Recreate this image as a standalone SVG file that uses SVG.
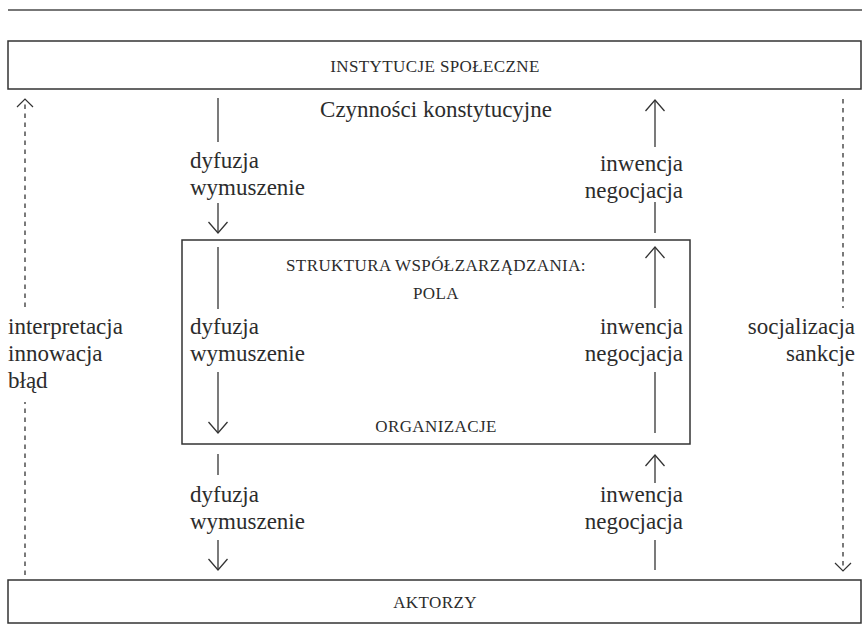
<svg xmlns="http://www.w3.org/2000/svg" width="864" height="642" viewBox="0 0 864 642">
<defs>
<style>
.box{fill:#fff;stroke:#333;stroke-width:1.5}
.ln{stroke:#333;stroke-width:1.3;fill:none}
.dash{stroke:#333;stroke-width:1.3;fill:none;stroke-dasharray:4.5 4.5}
.t{font-family:"Liberation Serif","Times New Roman",serif;font-size:23px;fill:#2c2c2c}
.sc{font-family:"Liberation Serif","Times New Roman",serif;font-size:17px;letter-spacing:0.4px;fill:#2c2c2c}
.m{text-anchor:middle}
.e{text-anchor:end}
</style>
<marker id="arr" viewBox="-12 -11 14 22" markerWidth="14" markerHeight="22" refX="0" refY="0" orient="auto" markerUnits="userSpaceOnUse">
<path d="M-11,-9.5 L0,0 L-11,9.5" fill="none" stroke="#333" stroke-width="1.3"/>
</marker>
<marker id="arrs" viewBox="-12 -11 14 22" markerWidth="14" markerHeight="22" refX="0" refY="0" orient="auto" markerUnits="userSpaceOnUse">
<path d="M-8,-8 L0,0 L-8,8" fill="none" stroke="#333" stroke-width="1.2"/>
</marker>
</defs>
<rect width="864" height="642" fill="#fff"/>
<line x1="8" y1="10" x2="862" y2="10" stroke="#777" stroke-width="2"/>

<g id="instytucje">
<rect class="box" x="8" y="41" width="853" height="48"/>
<text class="sc m" x="435" y="72">INSTYTUCJE SPOŁECZNE</text>
</g>
<g id="czynnosci">
<text class="t m" x="436" y="117">Czynności konstytucyjne</text>
</g>
<g id="struktura">
<rect class="box" x="182" y="240" width="508" height="204"/>
<text class="sc m" x="436" y="271">STRUKTURA WSPÓŁZARZĄDZANIA:</text>
<text class="sc m" x="436" y="299">POLA</text>
<text class="sc m" x="436" y="432">ORGANIZACJE</text>
</g>
<g id="aktorzy">
<rect class="box" x="8" y="580" width="853" height="43"/>
<text class="sc m" x="435" y="608">AKTORZY</text>
</g>

<g id="connectors">
<line class="dash" x1="25" y1="575" x2="25" y2="402"/>
<line class="dash" x1="25" y1="307" x2="25" y2="99" marker-end="url(#arrs)"/>
<line class="dash" x1="843" y1="99" x2="843" y2="308"/>
<line class="dash" x1="843" y1="372" x2="843" y2="571" marker-end="url(#arrs)"/>

<line class="ln" x1="218" y1="98" x2="218" y2="142"/>
<line class="ln" x1="218" y1="203" x2="218" y2="233" marker-end="url(#arr)"/>
<line class="ln" x1="218" y1="247" x2="218" y2="309"/>
<line class="ln" x1="218" y1="372" x2="218" y2="433" marker-end="url(#arr)"/>
<line class="ln" x1="218" y1="454" x2="218" y2="475"/>
<line class="ln" x1="218" y1="540" x2="218" y2="570" marker-end="url(#arr)"/>

<line class="ln" x1="655" y1="147" x2="655" y2="100" marker-end="url(#arr)"/>
<line class="ln" x1="655" y1="233" x2="655" y2="202"/>
<line class="ln" x1="655" y1="308" x2="655" y2="247" marker-end="url(#arr)"/>
<line class="ln" x1="655" y1="433" x2="655" y2="372"/>
<line class="ln" x1="655" y1="483" x2="655" y2="455" marker-end="url(#arr)"/>
<line class="ln" x1="655" y1="570" x2="655" y2="540"/>
</g>

<g id="labels">
<text class="t" x="190" y="168">dyfuzja</text>
<text class="t" x="190" y="195">wymuszenie</text>
<text class="t" x="190" y="334">dyfuzja</text>
<text class="t" x="190" y="361">wymuszenie</text>
<text class="t" x="190" y="502">dyfuzja</text>
<text class="t" x="190" y="529">wymuszenie</text>

<text class="t e" x="683" y="171">inwencja</text>
<text class="t e" x="683" y="198">negocjacja</text>
<text class="t e" x="683" y="334">inwencja</text>
<text class="t e" x="683" y="361">negocjacja</text>
<text class="t e" x="683" y="502">inwencja</text>
<text class="t e" x="683" y="529">negocjacja</text>

<text class="t" x="8" y="334">interpretacja</text>
<text class="t" x="8" y="361">innowacja</text>
<text class="t" x="8" y="388">błąd</text>

<text class="t e" x="855" y="334">socjalizacja</text>
<text class="t e" x="855" y="361">sankcje</text>
</g>
</svg>
